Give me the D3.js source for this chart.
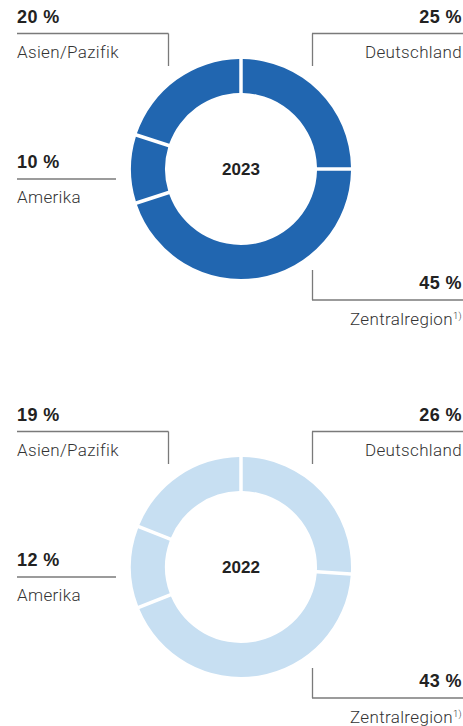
<!DOCTYPE html>
<html><head><meta charset="utf-8">
<script src="https://cdn.jsdelivr.net/npm/d3@7"></script>
<style>
html,body{margin:0;padding:0;background:#fff;}
svg{display:block;}
</style></head>
<body>
<svg id="c" width="463" height="726"></svg>
<script>
const regions = ["Deutschland", "Zentralregion", "Amerika", "Asien/Pazifik"];
const years = ["2023", "2022"];
const values2023 = [25, 45, 10, 20];
const values2022 = [26, 43, 12, 19];
const footnotes = ["", "1)", "", ""];

const colors = {"2023": "#2166b0", "2022": "#c7dff2"};
const svg = d3.select("#c");
const lightFont = "Roboto, 'Liberation Sans', Arial, sans-serif";
const boldFont = "'Liberation Sans', Arial, sans-serif";

const pie = d3.pie().sort(null).value(d => d);
const arc = d3.arc().innerRadius(76).outerRadius(110).padAngle(0.026).padRadius(134);

function drawChart(year, values, oy) {
  const g = svg.append("g").attr("transform", `translate(0,${oy})`);
  const cx = 241, cy = 169;
  const dg = g.append("g").attr("transform", `translate(${cx},${cy})`);
  dg.selectAll("path").data(pie(values)).join("path")
    .attr("d", arc).attr("fill", colors[year]);
  dg.append("text").attr("text-anchor", "middle").attr("y", 6)
    .attr("font-family", boldFont).attr("font-weight", 700).attr("font-size", 17)
    .attr("fill", "#222").text(year);

  const lineColor = "#7a7a7a";
  const pctSize = 18, nameSize = 17;
  const layout = [
    {side: "right", pctY: 23, lineY: 33.5, v1: 33.5, v2: 66, nameY: 58, x1: 312, x2: 463, vx: 312.5},
    {side: "right", pctY: 289, lineY: 300, v1: 270, v2: 300, nameY: 325, x1: 312, x2: 463, vx: 312.5},
    {side: "left", pctY: 168, lineY: 179, v1: null, v2: null, nameY: 203, x1: 17, x2: 116, vx: null},
    {side: "left", pctY: 23, lineY: 33.5, v1: 33.5, v2: 66, nameY: 58, x1: 17, x2: 168.5, vx: 168.5}
  ];
  regions.forEach((r, i) => {
    const L = layout[i];
    const right = L.side === "right";
    const tx = right ? 462 : 17;
    const anchor = right ? "end" : "start";
    g.append("line").attr("x1", L.x1).attr("x2", L.x2).attr("y1", L.lineY).attr("y2", L.lineY)
      .attr("stroke", lineColor).attr("stroke-width", 1.3);
    if (L.vx !== null) {
      g.append("line").attr("x1", L.vx).attr("x2", L.vx).attr("y1", L.v1).attr("y2", L.v2)
        .attr("stroke", lineColor).attr("stroke-width", 1.3);
    }
    g.append("text").attr("x", tx).attr("y", L.pctY).attr("text-anchor", anchor)
      .attr("font-family", boldFont).attr("font-weight", 700).attr("font-size", pctSize)
      .attr("letter-spacing", 0.4)
      .attr("fill", "#222").text(values[i] + " %");
    const t = g.append("text").attr("x", tx).attr("y", L.nameY).attr("text-anchor", anchor)
      .attr("font-family", lightFont).attr("font-weight", 300).attr("font-size", nameSize)
      .attr("letter-spacing", 0.35)
      .attr("fill", "#333");
    t.append("tspan").text(r);
    if (footnotes[i]) {
      t.append("tspan").attr("font-size", 9.5).attr("dy", -6).text(footnotes[i]);
    }
  });
}

drawChart("2023", values2023, 0);
drawChart("2022", values2022, 398);
</script>
</body></html>
